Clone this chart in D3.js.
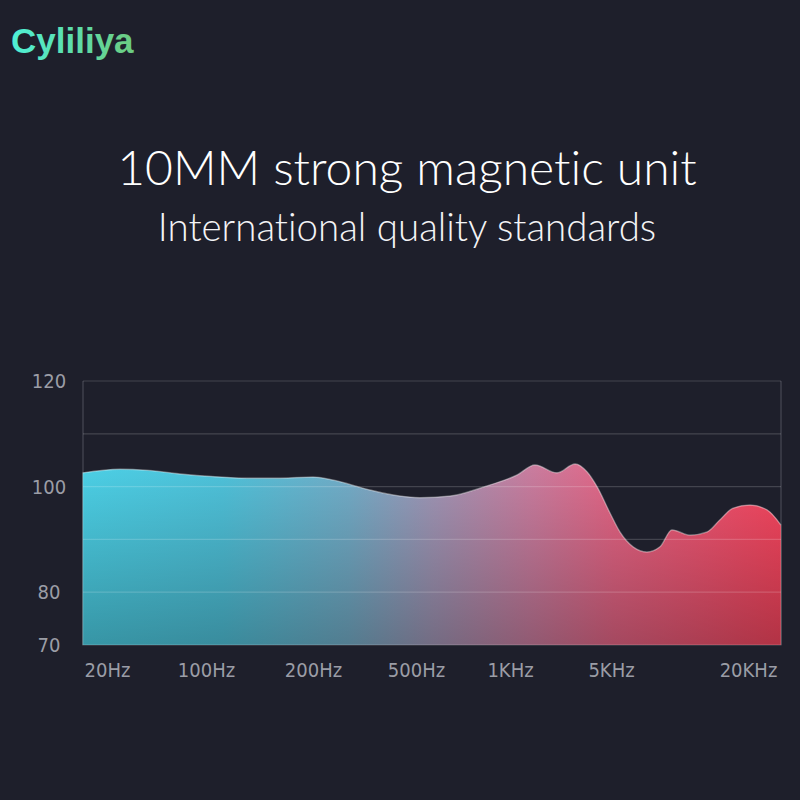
<!DOCTYPE html>
<html>
<head>
<meta charset="utf-8">
<script src="https://cdn.jsdelivr.net/npm/d3@7"></script>
<style>
  html, body { margin: 0; padding: 0; background: #1e1f2b; }
  svg { display: block; }
  text { font-variant-ligatures: none; font-feature-settings: "liga" 0, "clig" 0, "dlig" 0; }
</style>
</head>
<body>
<svg id="chart" width="800" height="800"></svg>
<script>
// ---- data ----
const brand = "Cyliliya";
const title = "10MM strong magnetic unit";
const subtitle = "International quality standards";

const tickFreqs = [20, 100, 200, 500, 1000, 5000, 20000];
const tickLabels = ["20Hz", "100Hz", "200Hz", "500Hz", "1KHz", "5KHz", "20KHz"];

const yTickValues = [70, 80, 100, 120];
const yGridValues = [80, 90, 100, 110, 120];

// frequency response curve (Hz, dB)
const freqs = [13.5, 24.7, 38.3, 65.5, 104.6, 130.4, 161.5, 200, 238.9, 323.3, 433.7, 514.9, 642.6, 819.6,
               1118, 1489, 2115, 2818, 3412, 4000, 4920, 5476, 6247, 7197, 8209, 9268, 11120, 13210,
               15060, 17180, 20400, 24230, 27920];
const levels = [102.6, 103.3, 103.1, 102.4, 101.9, 101.6, 101.6, 101.8, 101.25, 99.5, 98.2, 97.9, 98.2, 99.9,
                102.2, 104.1, 102.6, 104.3, 102.8, 100.0, 95.0, 91.4, 88.6, 87.6, 88.6, 91.8, 90.8, 91.4,
                93.7, 95.9, 96.5, 95.6, 92.7];

// ---- layout ----
const plotLeft = 83, plotRight = 781, plotTop = 381, plotBottom = 645;

const svg = d3.select("#chart");
const defs = svg.append("defs");

// brand gradient
const bg = defs.append("linearGradient").attr("id", "brandGrad")
  .attr("x1", "0%").attr("x2", "100%").attr("y1", "0%").attr("y2", "0%");
bg.append("stop").attr("offset", "0%").attr("stop-color", "#4ff0d6");
bg.append("stop").attr("offset", "100%").attr("stop-color", "#6ccb80");

// horizontal fill gradient
const hg = defs.append("linearGradient").attr("id", "fillGrad")
  .attr("gradientUnits", "userSpaceOnUse")
  .attr("x1", plotLeft).attr("x2", plotRight).attr("y1", 0).attr("y2", 0);
[["0%", "#4cd0e6"], ["20%", "#4fc2da"], ["38%", "#73adc8"], ["50%", "#a096b6"],
 ["64%", "#c97d9f"], ["76%", "#e46585"], ["100%", "#f7465f"]]
  .forEach(([o, c]) => hg.append("stop").attr("offset", o).attr("stop-color", c));

// vertical shade gradient
const vg = defs.append("linearGradient").attr("id", "shadeGrad")
  .attr("gradientUnits", "userSpaceOnUse")
  .attr("x1", 0).attr("x2", 0).attr("y1", 465).attr("y2", plotBottom);
vg.append("stop").attr("offset", "0%").attr("stop-color", "#000").attr("stop-opacity", 0);
vg.append("stop").attr("offset", "100%").attr("stop-color", "#000").attr("stop-opacity", 0.28);

// ---- texts ----
svg.append("text").attr("x", 11).attr("y", 53)
  .attr("font-family", "Liberation Sans, Arial, sans-serif").attr("font-weight", "bold")
  .attr("font-size", 35).attr("fill", "url(#brandGrad)").text(brand);

svg.append("text").attr("x", 407).attr("y", 185).attr("text-anchor", "middle")
  .attr("font-family", "Lato, 'Open Sans', sans-serif").attr("font-weight", 300)
  .attr("font-size", 48).attr("fill", "#ffffff").text(title);

svg.append("text").attr("x", 407).attr("y", 241).attr("text-anchor", "middle")
  .attr("font-family", "Lato, 'Open Sans', sans-serif").attr("font-weight", 300)
  .attr("font-size", 38.5).attr("fill", "#f4f4f6").text(subtitle);

// ---- scales ----
const x = d3.scaleLog().domain(tickFreqs).range([107, 206, 313, 416, 510, 611, 748]);
const y = d3.scaleLinear().domain([70, 120]).range([plotBottom, plotTop]);

const data = freqs.map((f, i) => ({ f, v: levels[i] }));

// frame lines (behind)
const frame = svg.append("g").attr("stroke", "#474954").attr("stroke-width", 1.2);
frame.append("line").attr("x1", plotLeft).attr("x2", plotLeft).attr("y1", plotTop).attr("y2", plotBottom);
frame.append("line").attr("x1", plotRight).attr("x2", plotRight).attr("y1", plotTop).attr("y2", plotBottom);

// area
const area = d3.area().x(d => x(d.f)).y0(y(70)).y1(d => y(d.v)).curve(d3.curveMonotoneX);
const line = d3.line().x(d => x(d.f)).y(d => y(d.v)).curve(d3.curveMonotoneX);

svg.append("path").datum(data).attr("d", area).attr("fill", "url(#fillGrad)");
svg.append("path").datum(data).attr("d", area).attr("fill", "url(#shadeGrad)");
svg.append("path").datum(data).attr("d", area).attr("fill", "none")
  .attr("stroke", "rgba(255,255,255,0.22)").attr("stroke-width", 1.2);
svg.append("path").datum(data).attr("d", line).attr("fill", "none")
  .attr("stroke", "rgba(255,255,255,0.22)").attr("stroke-width", 1.5);

// grid lines (over)
svg.append("g").selectAll("line").data(yGridValues).join("line")
  .attr("x1", plotLeft).attr("x2", plotRight)
  .attr("y1", d => y(d)).attr("y2", d => y(d))
  .attr("stroke", "rgba(255,255,255,0.17)").attr("stroke-width", 1.2);

// y axis labels
const yAxis = d3.axisLeft(y).tickValues(yTickValues).tickSize(0).tickPadding(0);
const gy = svg.append("g").attr("transform", "translate(49,0)").call(yAxis);
gy.select(".domain").remove();
gy.selectAll("text").attr("text-anchor", "middle")
  .attr("font-family", "'DejaVu Sans Condensed', 'DejaVu Sans', sans-serif")
  .attr("font-stretch", "condensed")
  .attr("font-size", 20).attr("fill", "#9b9da6");

// x axis labels
const xAxis = d3.axisBottom(x).tickValues(tickFreqs).tickFormat((d, i) => tickLabels[i]).tickSize(0).tickPadding(0);
const gx = svg.append("g").attr("transform", "translate(0,663)").call(xAxis);
gx.select(".domain").remove();
gx.selectAll("text").attr("dy", "0.71em")
  .attr("font-family", "'DejaVu Sans Condensed', 'DejaVu Sans', sans-serif")
  .attr("font-stretch", "condensed")
  .attr("font-size", 20).attr("fill", "#9b9da6");
</script>
</body>
</html>
